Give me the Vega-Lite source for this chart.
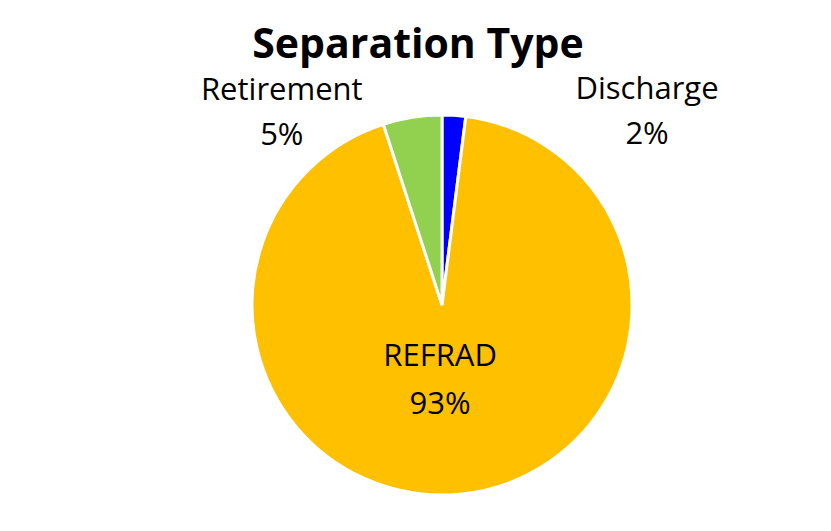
{
  "$schema": "https://vega.github.io/schema/vega-lite/v6.json",
  "autosize": "none",
  "width": 380,
  "height": 380,
  "padding": {"left": 252, "top": 115, "right": 199, "bottom": 36},
  "background": "white",
  "title": {
    "text": "Separation Type",
    "font": "Open Sans",
    "fontSize": 41,
    "fontWeight": "bold",
    "color": "black",
    "anchor": "middle",
    "baseline": "alphabetic",
    "dx": -24,
    "dy": 30,
    "offset": 4
  },
  "data": {
    "values": [
      {"type": "Discharge", "value": 2, "label": "Discharge\n2%"},
      {"type": "REFRAD", "value": 93, "label": "REFRAD\n93%"},
      {"type": "Retirement", "value": 5, "label": "Retirement\n5%"}
    ]
  },
  "encoding": {
    "theta": {"field": "value", "type": "quantitative", "stack": true},
    "color": {
      "field": "type",
      "type": "nominal",
      "scale": {"domain": ["Discharge", "REFRAD", "Retirement"], "range": ["#0000FF", "#FFC000", "#92D050"]},
      "legend": null
    }
  },
  "layer": [
    {"mark": {"type": "arc", "outerRadius": 190, "stroke": "white", "strokeWidth": 3}},
    {
      "mark": {"type": "text", "radius": 192, "dx": 193, "dy": -23, "font": "Open Sans", "fontSize": 31, "lineBreak": "\n", "lineHeight": 45, "align": "center", "baseline": "middle", "color": "black"},
      "encoding": {"text": {"condition": {"test": "datum.type === 'Discharge'", "field": "label"}, "value": ""}, "color": {"value": "black"}}
    },
    {
      "mark": {"type": "text", "radius": 193, "dx": -130, "dy": -23, "font": "Open Sans", "fontSize": 31, "lineBreak": "\n", "lineHeight": 45, "align": "center", "baseline": "middle", "color": "black"},
      "encoding": {"text": {"condition": {"test": "datum.type === 'Retirement'", "field": "label"}, "value": ""}, "color": {"value": "black"}}
    },
    {
      "mark": {"type": "text", "radius": 76, "dx": -9, "dy": -24, "font": "Open Sans", "fontSize": 31, "lineBreak": "\n", "lineHeight": 48, "align": "center", "baseline": "middle", "color": "black"},
      "encoding": {"text": {"condition": {"test": "datum.type === 'REFRAD'", "field": "label"}, "value": ""}, "color": {"value": "black"}}
    }
  ]
}
